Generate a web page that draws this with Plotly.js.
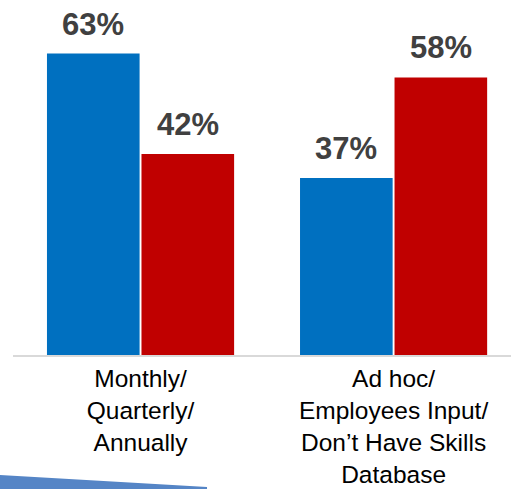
<!DOCTYPE html>
<html>
<head>
<meta charset="utf-8">
<script src="https://cdn.plot.ly/plotly-3.0.1.min.js"></script>
<style>html,body{margin:0;padding:0;background:#fff;}#chart{width:511px;height:489px;}</style>
</head>
<body>
<div id="chart"></div>
<script>
// Data
const categories = ["Monthly/<br>Quarterly/<br>Annually", "Ad hoc/<br>Employees Input/<br>Don\u2019t Have Skills<br>Database"];
const seriesBlue = [63, 37];
const seriesRed = [42, 58];
const seriesNames = ["Series A", "Series B"];
const seriesColors = ["#0070C0", "#C00000"];

const FONT = "Arial, 'Liberation Sans', sans-serif";
const bargap = 0.253;
const bargroupgap = 0.02;

const allSeries = [seriesBlue, seriesRed];
const traces = allSeries.map((vals, s) => ({
  type: "bar",
  name: seriesNames[s],
  x: categories,
  y: vals,
  marker: {color: seriesColors[s], line: {width: 0}},
  hoverinfo: "none"
}));

// value labels as annotations above each bar
const slot = (1 - bargap) / 2;
const annotations = [];
allSeries.forEach((vals, s) => {
  vals.forEach((v, i) => {
    annotations.push({
      xref: "x", yref: "y",
      x: i + (s === 0 ? -slot / 2 : slot / 2),
      y: v,
      text: v + "%",
      showarrow: false,
      yanchor: "bottom",
      yshift: 10,
      font: {family: FONT, size: 31, color: "#404040", weight: "bold"}
    });
  });
});

const layout = {
  width: 511, height: 489,
  margin: {l: 13, r: 0, t: 20, b: 134},
  paper_bgcolor: "#ffffff",
  plot_bgcolor: "#ffffff",
  showlegend: false,
  barmode: "group",
  bargap: bargap,
  bargroupgap: bargroupgap,
  xaxis: {
    type: "category",
    range: [-0.504, 1.464],
    showline: true, linecolor: "#d9d9d9", linewidth: 2,
    showgrid: false, zeroline: false,
    ticks: "outside", ticklen: 1, tickcolor: "rgba(0,0,0,0)",
    tickfont: {family: FONT, size: 24.5, color: "#000000"},
    fixedrange: true
  },
  yaxis: {
    range: [0, 70],
    visible: false,
    showgrid: false, zeroline: false,
    fixedrange: true
  },
  annotations: annotations,
  shapes: [{
    type: "path", xref: "paper", yref: "paper",
    path: "M -0.0261,-0.3582 L 0.3896,-0.394 L 0.3896,-0.41 L -0.0261,-0.41 Z",
    fillcolor: "#5585c6", line: {width: 0}, layer: "below"
  }]
};

Plotly.newPlot("chart", traces, layout, {displayModeBar: false, staticPlot: true});
</script>
</body>
</html>
